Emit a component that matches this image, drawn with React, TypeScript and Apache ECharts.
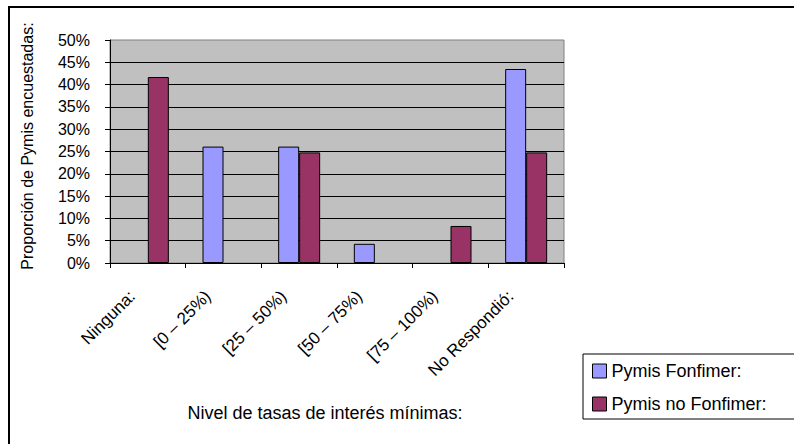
import React, { useEffect, useRef } from "react";
import * as echarts from "echarts";

const categories = ["Ninguna:", "[0 – 25%)", "[25 – 50%)", "[50 – 75%)", "[75 – 100%)", "No Respondió:"];
const seriesNames = ["Pymis Fonfimer:", "Pymis no Fonfimer:"];
const fonfimer: (number | null)[] = [null, 26.1, 26.1, 4.3, null, 43.5];
const noFonfimer: (number | null)[] = [41.7, null, 24.8, null, 8.3, 24.8];
const yTicks = { min: 0, max: 50, interval: 5 };
const yTitle = "Proporción de Pymis encuestadas:";
const xTitle = "Nivel de tasas de interés mínimas:";

const FONT = "'Liberation Sans', Arial, sans-serif";

export default function App() {
  const ref = useRef<HTMLDivElement>(null);
  useEffect(() => {
    document.body.style.margin = "0";
    const chart = echarts.init(ref.current!, null, { renderer: "svg" });
    chart.setOption({
      animation: false,
      backgroundColor: "#ffffff",
      textStyle: { fontFamily: FONT },
      grid: {
        left: 110,
        top: 40,
        width: 454,
        height: 223,
        show: true,
        backgroundColor: "#C0C0C0",
        borderColor: "#808080",
        borderWidth: 1,
      },
      legend: {
        orient: "vertical",
        left: 583,
        top: 354,
        padding: [8, 80, 6, 9],
        borderColor: "#000",
        borderWidth: 1,
        backgroundColor: "#fff",
        itemWidth: 14,
        itemHeight: 14,
        itemGap: 15,
        icon: "rect",
        itemStyle: { borderColor: "#000", borderWidth: 1 },
        textStyle: { fontSize: 18, color: "#000", fontFamily: FONT, lineHeight: 18 },
        data: seriesNames,
      },
      xAxis: {
        type: "category",
        data: categories,
        boundaryGap: true,
        axisLine: { lineStyle: { color: "#000", width: 1 } },
        axisTick: { show: true, length: 5, lineStyle: { color: "#000" } },
        axisLabel: {
          rotate: 45,
          interval: 0,
          margin: 15,
          fontSize: 17,
          color: "#000",
          fontFamily: FONT,
          formatter: (v: string) => `{t|${v}}{p| }`,
          rich: {
            t: { fontSize: 17, fontFamily: FONT, color: "#000" },
            p: { width: 22, fontSize: 17 },
          },
        },
        splitLine: { show: false },
      },
      yAxis: {
        type: "value",
        min: yTicks.min,
        max: yTicks.max,
        interval: yTicks.interval,
        axisLine: { show: true, lineStyle: { color: "#000", width: 1 } },
        axisTick: { show: true, length: 5, lineStyle: { color: "#000" } },
        axisLabel: {
          formatter: "{value}%",
          fontSize: 16,
          color: "#000",
          margin: 20,
          fontFamily: FONT,
        },
        splitLine: {
          show: true,
          showMaxLine: false,
          showMinLine: false,
          lineStyle: { color: "#000", width: 1 },
        },
      },
      series: [
        {
          name: seriesNames[0],
          type: "bar",
          data: fonfimer,
          barWidth: 21,
          barGap: "0%",
          itemStyle: { color: "#9999FF", borderColor: "#000", borderWidth: 1 },
        },
        {
          name: seriesNames[1],
          type: "bar",
          data: noFonfimer,
          barWidth: 21,
          barGap: "0%",
          itemStyle: { color: "#993366", borderColor: "#000", borderWidth: 1 },
        },
      ],
      graphic: [
        {
          type: "rect",
          z: 100,
          silent: true,
          shape: { x: 9, y: 7, width: 820, height: 460 },
          style: { fill: "none", stroke: "#000", lineWidth: 2 },
        },
        {
          type: "text",
          x: 27,
          y: 146,
          rotation: Math.PI / 2,
          style: {
            text: yTitle,
            fontSize: 16,
            fontFamily: FONT,
            fill: "#000",
            align: "center",
            verticalAlign: "middle",
          },
        },
        {
          type: "text",
          x: 325,
          y: 413,
          style: {
            text: xTitle,
            fontSize: 18,
            fontFamily: FONT,
            fill: "#000",
            align: "center",
            verticalAlign: "middle",
          },
        },
      ],
    });
    return () => chart.dispose();
  }, []);
  return <div ref={ref} style={{ width: 794, height: 444 }} />;
}
